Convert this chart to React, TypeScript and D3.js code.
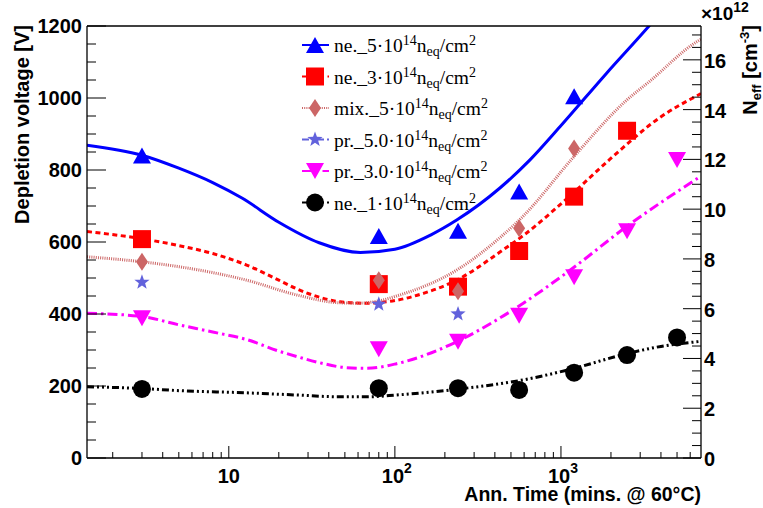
import React from 'react';
import * as d3 from 'd3';

const W = 763;
const H = 508;
const PL = 87, PR = 701, PT = 26, PB = 458;

// measured markers
const times = [3, 80, 240, 560, 1200, 2500, 5000];
const ne5Vals = [840, 617, 631, 740, 1005];
const ne3Vals = [608, 483, 476, 575, 726, 909];
const mix5Vals = [545, 494, 463, 638, 860];
const pr50Vals = [488, 427, 400];
const pr30Vals = [388, 302, 323, 395, 502, 630, 828];
const ne1Vals = [192, 194, 194, 189, 237, 286, 335];

// fitted curves
const ne5CurveT = [1.4, 3, 5, 8, 12, 20, 35, 62, 100, 165, 235.6, 429, 651, 986, 1883, 3435, 4200];
const ne5CurveV = [869, 841, 805, 765, 722, 655, 598, 571, 580, 620, 661, 750, 828, 920, 1069, 1203, 1250];
const ne3CurveT = [1.4, 3, 5, 8, 12.8, 20, 25.6, 35, 46.6, 67.6, 93.3, 150, 235.6, 429, 593, 1132, 1973, 3948, 6970];
const ne3CurveV = [629, 609, 590, 568, 536, 494, 470, 447, 434, 430, 435, 458, 494, 572, 618, 728, 830, 946, 1012];
const mix5CurveT = [1.4, 3, 5.07, 12.8, 25.6, 46.6, 60, 81.3, 102.4, 235.6, 429, 593, 1186, 2486, 3435, 6564, 6970];
const mix5CurveV = [559, 545, 531, 494, 453, 431, 430, 437, 450, 522, 612, 672, 835, 994, 1047, 1156, 1163];
const pr30CurveT = [1.4, 3, 5, 8, 12.8, 20, 25.6, 35, 51, 67.6, 102.4, 235.6, 429, 593, 1160, 2486, 6970];
const pr30CurveV = [402, 393, 370, 350, 329, 297, 282, 265, 251, 249, 262, 323, 389, 430, 525, 643, 783];
const ne1CurveT = [1.4, 3, 5.07, 12.8, 25.6, 46.6, 67.6, 102.4, 235.6, 593, 1132, 2500, 4000, 6970];
const ne1CurveV = [198, 193, 187, 181, 175, 170, 170, 175, 191, 217, 246, 290, 310, 324];

const yTicksMajor = [0, 200, 400, 600, 800, 1000, 1200];
const rightTicksMajor = [0, 2, 4, 6, 8, 10, 12, 14, 16];
const xTickLabels = [
  { v: 10, base: '10', sup: '' },
  { v: 100, base: '10', sup: '2' },
  { v: 1000, base: '10', sup: '3' },
];

const legendPrefix = ['ne._5·10', 'ne._3·10', 'mix._5·10', 'pr._5.0·10', 'pr._3.0·10', 'ne._1·10'];

const SANS = 'Liberation Sans, Arial, Helvetica, sans-serif';
const SERIF = 'Liberation Serif, Times New Roman, serif';

const x = d3.scaleLog().domain([1.4, 6970]).range([PL, PR]);
const y = d3.scaleLinear().domain([0, 1200]).range([PB, PT]);
const yR = d3.scaleLinear().domain([0, 17.36]).range([PB, PT]);

type Style = {
  color: string;
  dash: string;
  width: number;
  marker: string;
};

const styles: Style[] = [
  { color: '#0000ff', dash: '', width: 3, marker: 'tri' },
  { color: '#ff0000', dash: '5,3.5', width: 3, marker: 'sq' },
  { color: '#cc6666', dash: '1,1.2', width: 3, marker: 'dia' },
  { color: '#6262dc', dash: '7,3,2,3', width: 2, marker: 'star' },
  { color: '#ff00ff', dash: '10,4,2.5,4', width: 3, marker: 'tdn' },
  { color: '#000000', dash: '7,3,2,3,2,3,2,3', width: 3, marker: 'circ' },
];

function markerPath(kind: string, cx: number, cy: number): string {
  switch (kind) {
    case 'tri':
      return `M${cx - 9},${cy + 8}L${cx + 9},${cy + 8}L${cx},${cy - 8}Z`;
    case 'tdn':
      return `M${cx - 9},${cy - 8}L${cx + 9},${cy - 8}L${cx},${cy + 8}Z`;
    case 'sq':
      return `M${cx - 9},${cy - 9}h18v18h-18Z`;
    case 'dia':
      return `M${cx},${cy - 9}L${cx + 6},${cy}L${cx},${cy + 9}L${cx - 6},${cy}Z`;
    case 'star': {
      let p = '';
      for (let i = 0; i < 10; i++) {
        const r = i % 2 === 0 ? 8 : 3.3;
        const a = -Math.PI / 2 + (i * Math.PI) / 5;
        p += (i === 0 ? 'M' : 'L') + (cx + r * Math.cos(a)).toFixed(2) + ',' + (cy + r * Math.sin(a)).toFixed(2);
      }
      return p + 'Z';
    }
    case 'circ':
    default:
      return `M${cx - 9},${cy}a9,9 0 1,0 18,0a9,9 0 1,0 -18,0Z`;
  }
}

const series = [ne5Vals, ne3Vals, mix5Vals, pr50Vals, pr30Vals, ne1Vals];
const curves: [number[], number[], number][] = [
  [ne5CurveT, ne5CurveV, 0],
  [ne3CurveT, ne3CurveV, 1],
  [mix5CurveT, mix5CurveV, 2],
  [pr30CurveT, pr30CurveV, 4],
  [ne1CurveT, ne1CurveV, 5],
];

export default function App() {
  const line = d3
    .line<[number, number]>()
    .x((d) => x(d[0]))
    .y((d) => y(d[1]))
    .curve(d3.curveMonotoneX);

  const yMinor = d3.range(0, 1201, 50);
  const rMinor = d3.range(0, 17.36, 0.5);
  const xMinor: number[] = [];
  for (let dec = 1; dec <= 1000; dec *= 10) {
    for (let m = 1; m <= 9; m++) {
      const v = dec * m;
      if (v >= 1.4 && v <= 6970) xMinor.push(v);
    }
  }

  const legendY = (i: number) => 45 + i * 31.5;

  return (
    <svg width={W} height={H} style={{ position: 'absolute', left: 0, top: 0, background: '#fff' }}>
      <rect x={0} y={0} width={W} height={H} fill="#fff" />
      <defs>
        <clipPath id="plotclip">
          <rect x={PL} y={PT} width={PR - PL} height={PB - PT} />
        </clipPath>
      </defs>

      {/* curves */}
      <g clipPath="url(#plotclip)">
        {curves.map(([ts, vs, si]) => (
          <path
            key={si}
            d={line(ts.map((t, i) => [t, vs[i]] as [number, number])) || ''}
            fill="none"
            stroke={styles[si].color}
            strokeWidth={styles[si].width}
            strokeDasharray={styles[si].dash || undefined}
          />
        ))}
      </g>

      {/* markers */}
      <g>
        {series.map((vals, si) =>
          vals.map((v, i) => (
            <path key={si + '-' + i} d={markerPath(styles[si].marker, x(times[i]), y(v))} fill={styles[si].color} />
          ))
        )}
      </g>

      {/* frame */}
      <line x1={PL} y1={PT} x2={PR} y2={PT} stroke="#000" strokeWidth={1.3} />
      <line x1={PL} y1={PT} x2={PL} y2={PB} stroke="#000" strokeWidth={1.3} />
      <line x1={PL} y1={PB} x2={PR} y2={PB} stroke="#000" strokeWidth={1.3} />
      <line x1={PR} y1={PT} x2={PR} y2={PB} stroke="#000" strokeWidth={1.3} />

      {/* left ticks */}
      {yMinor.map((v) => {
        const major = v % 200 === 0;
        return <line key={'yl' + v} x1={PL} x2={PL + (major ? 19 : 9)} y1={y(v)} y2={y(v)} stroke="#000" strokeWidth={1} />;
      })}
      {yTicksMajor.map((v) => (
        <text key={'ylt' + v} x={PL - 5} y={y(v) + 7} textAnchor="end" fontFamily={SANS} fontWeight="bold" fontSize={20}>
          {v}
        </text>
      ))}

      {/* right ticks */}
      {rMinor.map((v) => {
        const major = Math.abs(v % 2) < 1e-6;
        return <line key={'yr' + v} x1={PR} x2={PR - (major ? 18 : 9)} y1={yR(v)} y2={yR(v)} stroke="#000" strokeWidth={1} />;
      })}
      {rightTicksMajor.map((v) => (
        <text key={'yrt' + v} x={PR + 3} y={yR(v) + 8} textAnchor="start" fontFamily={SANS} fontWeight="bold" fontSize={20}>
          {v}
        </text>
      ))}
      <text x={PR} y={20} fontFamily={SANS} fontWeight="bold" fontSize={19}>
        ×10
        <tspan dy={-8} fontSize={14}>12</tspan>
      </text>

      {/* bottom ticks */}
      {xMinor.map((v, i) => {
        const lg = Math.log10(v);
        const major = Math.abs(lg - Math.round(lg)) < 1e-9;
        return <line key={'xt' + i} x1={x(v)} x2={x(v)} y1={PB} y2={PB - (major ? 12 : 6)} stroke="#000" strokeWidth={1} />;
      })}
      {xTickLabels.map((t) => (
        <text key={'xl' + t.v} x={x(t.v) + (t.sup ? 2 : 0)} y={483} textAnchor="middle" fontFamily={SANS} fontWeight="bold" fontSize={20}>
          {t.base}
          {t.sup ? (
            <tspan dy={-10} fontSize={14}>
              {t.sup}
            </tspan>
          ) : null}
        </text>
      ))}

      {/* titles */}
      <text x={PR} y={501} textAnchor="end" fontFamily={SANS} fontWeight="bold" fontSize={19.5}>
        Ann. Time (mins. @ 60°C)
      </text>
      <text transform={`translate(28.5,25) rotate(-90)`} textAnchor="end" fontFamily={SANS} fontWeight="bold" fontSize={20}>
        Depletion voltage [V]
      </text>
      <text transform={`translate(757,25) rotate(-90)`} textAnchor="end" fontFamily={SANS} fontWeight="bold" fontSize={20}>
        N
        <tspan dy={4} fontSize={13}>eff</tspan>
        <tspan dy={-4}> [cm</tspan>
        <tspan dy={-8} fontSize={13}>-3</tspan>
        <tspan dy={8}>]</tspan>
      </text>

      {/* legend */}
      {legendPrefix.map((p, i) => {
        const st = styles[i];
        const ly = legendY(i);
        return (
          <g key={'lg' + i}>
            <line x1={302} x2={329} y1={ly} y2={ly} stroke={st.color} strokeWidth={2} strokeDasharray={st.dash || undefined} />
            <path d={markerPath(st.marker, 315, ly)} fill={st.color} />
            <text x={334} y={ly + 7} fontFamily={SERIF} fontSize={19.5}>
              {p}
              <tspan dy={-7} fontSize={14}>14</tspan>
              <tspan dy={7}>n</tspan>
              <tspan dy={4} fontSize={14}>eq</tspan>
              <tspan dy={-4}>/cm</tspan>
              <tspan dy={-7} fontSize={14}>2</tspan>
            </text>
          </g>
        );
      })}
    </svg>
  );
}
